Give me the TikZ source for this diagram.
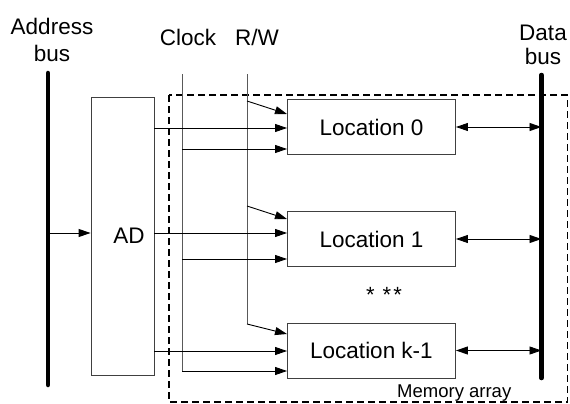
\documentclass[tikz,border=0pt]{standalone}
\usepackage{fontspec}
\setmainfont{Liberation Sans}
\usetikzlibrary{arrows.meta}
\begin{document}
\begin{tikzpicture}[x=1pt,y=-1pt,
  box/.style={draw=black!75,line width=0.9pt,fill=white,inner sep=0pt,minimum width=168pt,minimum height=55pt,font=\fontsize{22.5}{26}\selectfont},
  lbl/.style={font=\fontsize{22.5}{26}\selectfont,inner sep=0pt,anchor=base},
  bus/.style={line width=4.5pt,line cap=round,black},
  sig/.style={draw=black!65,line width=0.9pt},
  arr/.style={line width=0.9pt,-{Triangle[length=12pt,width=8pt]}},
  barr/.style={line width=0.9pt,{Triangle[length=12pt,width=8pt]}-{Triangle[length=12pt,width=8pt]}},
  frame/.style={draw=black,line width=1.5pt,dash pattern=on 7pt off 4pt}]
\useasboundingbox (0,0) rectangle (570,404);
% memory array frame
\draw[frame] (169,95) rectangle (567.5,402);
% labels
\node[lbl] (addr1) at (52,35) {Address};
\node[lbl] (addr2) at (52,62) {bus};
\node[lbl] (clk) at (188,46) {Clock};
\node[lbl] (rw) at (257,46) {R/W};
\node[lbl] (data1) at (543,41) {Data};
\node[lbl] (data2) at (543,65) {bus};
\node[font=\fontsize{18.5}{21}\selectfont,inner sep=0pt,anchor=base west] (mem) at (397,397) {Memory array};
% boxes
\node[box,minimum width=63pt,minimum height=278pt] (ad) at (122.5,236) {};
\node[lbl] (adl) at (129,243) {AD};
\node[box] (l0) at (371.5,127) {Location 0};
\node[box] (l1) at (371.5,239) {Location 1};
\node[box] (lk) at (371.5,350.5) {Location k-1};
\node[font=\fontsize{22}{26}\selectfont,inner sep=0pt] (dots) at (384,295) {*\hspace{8pt}*\hspace{2pt}*};
% buses
\coordinate (ab1) at (48,73);
\coordinate (ab2) at (48,385);
\draw[bus] (ab1) -- (ab2);
\coordinate (db1) at (541.5,75);
\coordinate (db2) at (541.5,378);
\draw[bus] (db1) -- (db2);
% clock and R/W lines
\coordinate (ck0) at (182,74);
\coordinate (ck1) at (182,371);
\coordinate (rw0) at (247,74);
\coordinate (rw1) at (247,324);
\draw[sig] (ck0) -- (ck1);
\draw[sig] (rw0) -- (rw1);
% address bus to AD
\coordinate (abx) at (48,233);
\draw[arr] (abx) -- (ad.west |- abx);
% AD outputs
\coordinate (a0) at (154,128);
\coordinate (a1) at (154,233);
\coordinate (a2) at (154,351);
\draw[arr] (a0) -- (l0.west |- a0);
\draw[arr] (a1) -- (l1.west |- a1);
\draw[arr] (a2) -- (lk.west |- a2);
% clock arrows
\coordinate (c0) at (182,149);
\coordinate (c1) at (182,259);
\draw[arr] (c0) -- (l0.west |- c0);
\draw[arr] (c1) -- (l1.west |- c1);
\draw[arr] (ck1) -- (lk.west |- ck1);
% R/W arrows
\coordinate (r0) at (247,101);
\coordinate (r1) at (247,206);
\coordinate (t0) at (287,114);
\coordinate (t1) at (287,219);
\coordinate (t2) at (287,334);
\draw[arr] (r0) -- (t0);
\draw[arr] (r1) -- (t1);
\draw[arr] (rw1) -- (t2);
% data bus arrows
\draw[barr] (l0.east) -- (db1 |- l0.east);
\draw[barr] (l1.east) -- (db1 |- l1.east);
\draw[barr] (lk.east) -- (db1 |- lk.east);
\end{tikzpicture}
\end{document}
